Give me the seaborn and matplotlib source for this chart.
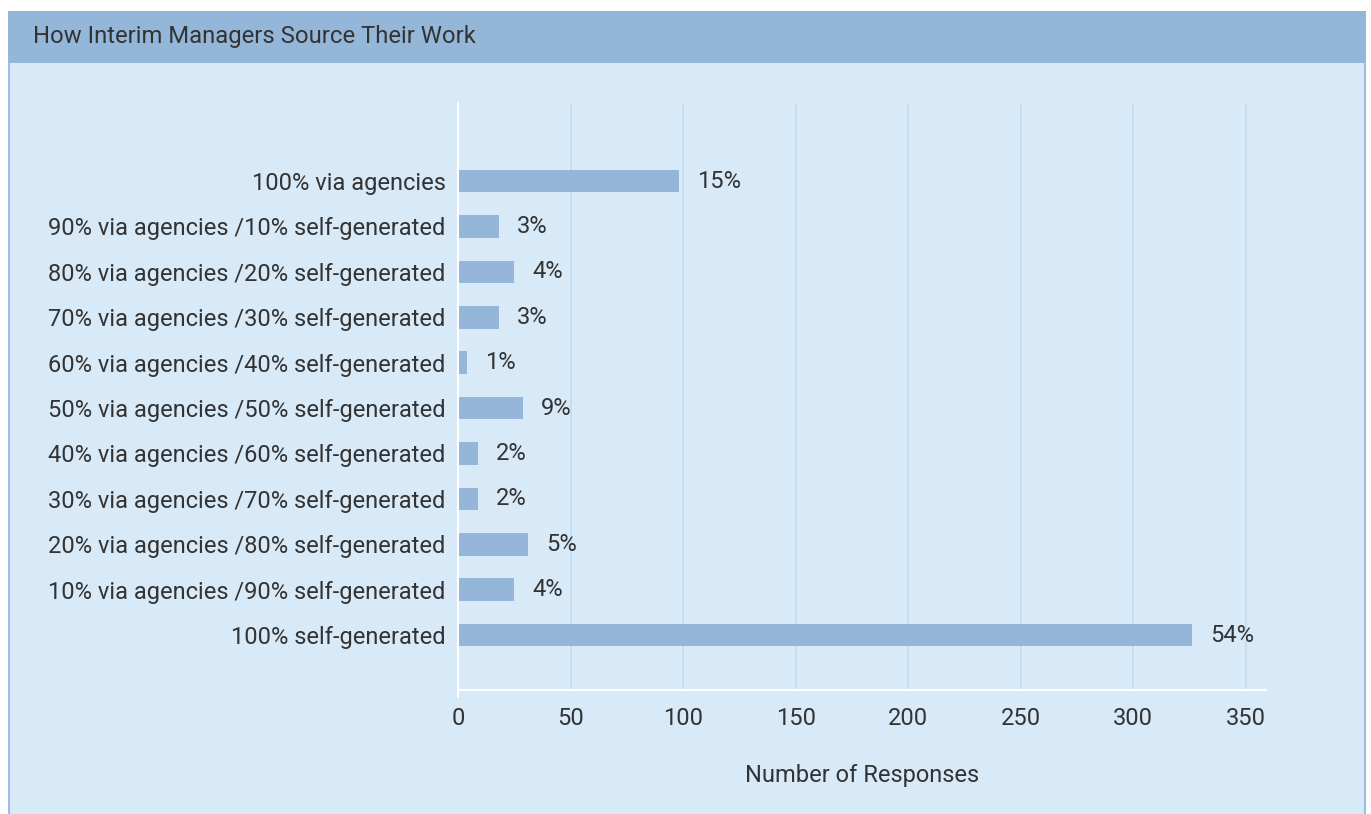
import matplotlib
matplotlib.use("Agg")
import matplotlib.pyplot as plt
from matplotlib.patches import Rectangle
import seaborn as sns
import pandas as pd

categories = [
    "100% via agencies",
    "90% via agencies /10% self-generated",
    "80% via agencies /20% self-generated",
    "70% via agencies /30% self-generated",
    "60% via agencies /40% self-generated",
    "50% via agencies /50% self-generated",
    "40% via agencies /60% self-generated",
    "30% via agencies /70% self-generated",
    "20% via agencies /80% self-generated",
    "10% via agencies /90% self-generated",
    "100% self-generated",
]
responses = [98, 18, 25, 18, 4, 29, 9, 9, 31, 25, 326]
share_labels = ["15%", "3%", "4%", "3%", "1%", "9%", "2%", "2%", "5%", "4%", "54%"]
x_ticks = [0, 50, 100, 150, 200, 250, 300, 350]

title = "How Interim Managers Source Their Work"
x_label = "Number of Responses"

HEADER = "#94b6d9"
PANEL = "#d8e9f7"
BAR = "#95b6d9"
GRID = "#c3dcf1"
EDGE = "#9ebde0"
TEXT = "#333333"
FS = 17

sns.set_theme(style="white")
plt.rcParams["font.family"] = ["Roboto", "DejaVu Sans"]

W, H = 1371, 814
fig = plt.figure(figsize=(W / 100, H / 100), dpi=100, facecolor="white")

# panel body and header band
fig.patches.append(Rectangle((8 / W, 0), (1366 - 8) / W, 1 - 63 / H,
                             transform=fig.transFigure, facecolor=PANEL,
                             edgecolor="none", zorder=-2))
fig.patches.append(Rectangle((8 / W, 1 - 63 / H), (1366 - 8) / W, (63 - 11) / H,
                             transform=fig.transFigure, facecolor=HEADER,
                             edgecolor="none", zorder=-2))
fig.lines.append(plt.Line2D([8.5 / W, 8.5 / W], [0, 1 - 63 / H], transform=fig.transFigure,
                            color=EDGE, lw=1.5, zorder=-1))
fig.lines.append(plt.Line2D([1364.5 / W, 1364.5 / W], [0, 1 - 63 / H], transform=fig.transFigure,
                            color=EDGE, lw=1.5, zorder=-1))

fig.text(33 / W, 1 - 36 / H, title, ha="left", va="center", fontsize=17.2,
         color=TEXT)

left, right, top, bottom = 458, 1266, 103, 690
ax = fig.add_axes([left / W, 1 - bottom / H, (right - left) / W, (bottom - top) / H])
ax.set_facecolor("none")

df = pd.DataFrame({"category": categories, "responses": responses})
sns.barplot(data=df, x="responses", y="category", color=BAR, saturation=1,
            width=0.5, linewidth=0, ax=ax, zorder=3)

ax.set_xlim(0, 359)
ax.set_ylim(11.21, -1.72)
ax.set_xticks(x_ticks)
ax.xaxis.grid(True, color=GRID, lw=1.2, zorder=0)
ax.yaxis.grid(False)
ax.set_axisbelow(True)

for side in ["top", "right"]:
    ax.spines[side].set_visible(False)
for side in ["left", "bottom"]:
    ax.spines[side].set_color("white")
    ax.spines[side].set_linewidth(1.5)
    ax.spines[side].set_zorder(4)
# small downward tick at zero
ax.axvline(0, ymin=-0.012, ymax=0, color="white", lw=1.5, clip_on=False, zorder=4)

ax.tick_params(axis="both", length=0, colors=TEXT, labelsize=FS)
ax.tick_params(axis="y", pad=9)
ax.tick_params(axis="x", pad=12)

ax.set_ylabel("")
ax.set_xlabel(x_label, fontsize=FS, color=TEXT, labelpad=25)

ax.bar_label(ax.containers[0], labels=share_labels, padding=13, fontsize=FS,
             color=TEXT)

fig.savefig("out.png", dpi=100, facecolor="white")
